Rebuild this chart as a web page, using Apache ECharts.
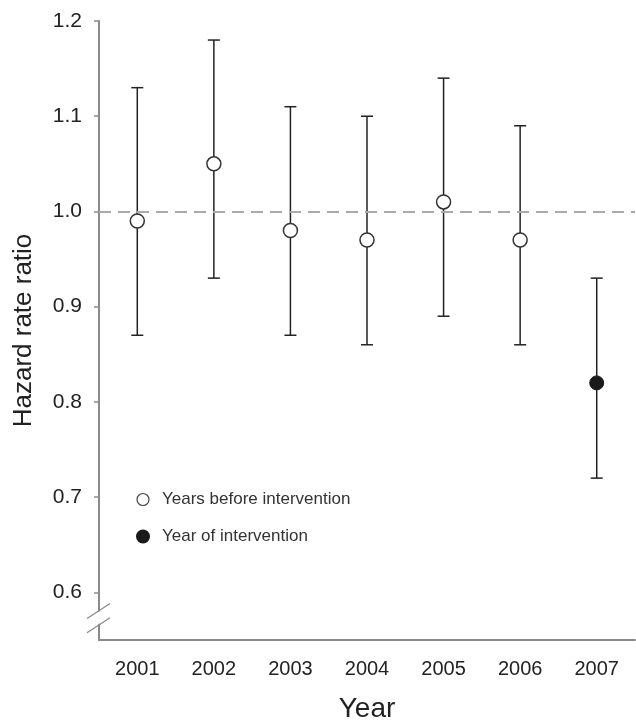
<!DOCTYPE html>
<html>
<head>
<meta charset="utf-8">
<script src="https://cdn.jsdelivr.net/npm/echarts@6/dist/echarts.min.js"></script>
<style>html,body{margin:0;padding:0;background:#fff}#c{width:636px;height:720px}</style>
</head>
<body>
<div id="c"></div>
<script>
var years = ['2001','2002','2003','2004','2005','2006','2007'];
var ratio = [0.99, 1.05, 0.98, 0.97, 1.01, 0.97, 0.82];
var lower = [0.87, 0.93, 0.87, 0.86, 0.89, 0.86, 0.72];
var upper = [1.13, 1.18, 1.11, 1.10, 1.14, 1.09, 0.93];
var interventionIndex = 6;
var yTicks = [0.6, 0.7, 0.8, 0.9, 1.0, 1.1, 1.2];
var refValue = 1.0;
var legendNames = ['Years before intervention', 'Year of intervention'];

var beforeData = [], ofData = [], barData = [];
for (var i = 0; i < years.length; i++) {
  if (i === interventionIndex) ofData.push([years[i], ratio[i]]);
  else beforeData.push([years[i], ratio[i]]);
  barData.push([i, lower[i], upper[i]]);
}

var chart = echarts.init(document.getElementById('c'));
var axisCol = '#8a8a8a';
var font = 'Liberation Sans, Arial, sans-serif';

chart.setOption({
  animation: false,
  grid: { left: 99, right: 1, top: 21, bottom: 80, containLabel: false, outerBoundsMode: 'none' },
  legend: {
    orient: 'vertical', left: 131, top: 486, itemGap: 20,
    itemWidth: 12, itemHeight: 12,
    textStyle: { fontSize: 17, color: '#333', fontFamily: font, padding: [0,0,0,8] },
    data: [
      { name: legendNames[0], icon: 'circle', itemStyle: { color: '#fff', borderColor: '#444', borderWidth: 1.2 } },
      { name: legendNames[1], icon: 'circle', itemStyle: { color: '#1a1a1a', borderColor: '#1a1a1a' } }
    ],
    selectedMode: false
  },
  xAxis: {
    type: 'category', data: years, boundaryGap: true,
    name: 'Year', nameLocation: 'middle', nameGap: 55,
    nameTextStyle: { fontSize: 28, color: '#222', fontFamily: font },
    axisLine: { lineStyle: { color: axisCol, width: 2 } },
    axisTick: { alignWithLabel: true, length: 5, lineStyle: { color: axisCol, width: 1.5 } },
    axisLabel: { fontSize: 20, color: '#222', fontFamily: font, margin: 19 },
    splitLine: { show: false }
  },
  yAxis: {
    type: 'value', min: 0.55, max: 1.2,
    name: 'Hazard rate ratio', nameLocation: 'middle', nameGap: 62, nameRotate: 90,
    nameTextStyle: { fontSize: 26, color: '#222', fontFamily: font },
    axisLine: { show: true, lineStyle: { color: axisCol, width: 2 } },
    axisTick: { show: true, length: 5, customValues: yTicks, lineStyle: { color: axisCol, width: 1.5 } },
    axisLabel: { fontSize: 21, color: '#222', fontFamily: font, margin: 17, customValues: yTicks,
      formatter: function (v) { return v.toFixed(1); } },
    splitLine: { show: false }
  },
  series: [
    {
      type: 'custom', name: 'ci', silent: true, z: 2,
      data: barData,
      renderItem: function (params, api) {
        var x = api.value(0);
        var lo = api.coord([x, api.value(1)]);
        var hi = api.coord([x, api.value(2)]);
        var hw = 6;
        var st = { stroke: '#222', lineWidth: 1.5 };
        return { type: 'group', children: [
          { type: 'line', shape: { x1: lo[0], y1: lo[1], x2: hi[0], y2: hi[1] }, style: st },
          { type: 'line', shape: { x1: lo[0]-hw, y1: lo[1], x2: lo[0]+hw, y2: lo[1] }, style: st },
          { type: 'line', shape: { x1: hi[0]-hw, y1: hi[1], x2: hi[0]+hw, y2: hi[1] }, style: st }
        ]};
      },
      markLine: {
        silent: true, symbol: 'none', label: { show: false },
        lineStyle: { color: '#aaaaaa', type: [12, 7], width: 2 },
        data: [{ yAxis: refValue }]
      }
    },
    {
      type: 'scatter', name: legendNames[0], data: beforeData, symbol: 'circle', symbolSize: 14, z: 5,
      itemStyle: { color: '#fff', borderColor: '#333', borderWidth: 1.5, opacity: 1 }
    },
    {
      type: 'scatter', name: legendNames[1], data: ofData, symbol: 'circle', symbolSize: 14, z: 5,
      itemStyle: { color: '#1a1a1a', borderColor: '#1a1a1a', borderWidth: 1, opacity: 1 }
    }
  ]
});

// axis break marker on the y axis
var pA = chart.convertToPixel({ gridIndex: 0 }, [0, 0.581]);
var pB = chart.convertToPixel({ gridIndex: 0 }, [0, 0.566]);
var ax = 99;
var yA = pA[1], yB = pB[1];
chart.setOption({
  graphic: [
    { type: 'rect', shape: { x: ax - 3, y: yA + 1, width: 6, height: yB - yA - 2 }, style: { fill: '#fff' }, z: 100 },
    { type: 'line', shape: { x1: ax - 12, y1: yA + 8, x2: ax + 11, y2: yA - 7 }, style: { stroke: axisCol, lineWidth: 1.3 }, z: 101 },
    { type: 'line', shape: { x1: ax - 12, y1: yB + 8, x2: ax + 11, y2: yB - 7 }, style: { stroke: axisCol, lineWidth: 1.3 }, z: 101 }
  ]
});
</script>
</body>
</html>
